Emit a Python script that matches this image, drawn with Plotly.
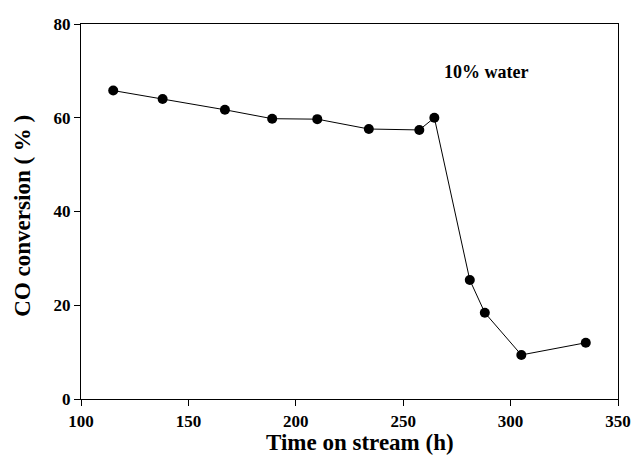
import plotly.graph_objects as go

time_h = [115, 138, 167, 189, 210, 234, 257.5, 264.5, 281, 288, 305, 335]
co_conv = [65.8, 64.0, 61.7, 59.8, 59.7, 57.6, 57.4, 60.0, 25.4, 18.4, 9.4, 12.0]

x_ticks = [100, 150, 200, 250, 300, 350]
y_ticks = [0, 20, 40, 60, 80]

x_title = "Time on stream (h)"
y_title = "CO conversion ( % )"

font_family = "Liberation Serif, Times New Roman, serif"

fig = go.Figure()
fig.add_trace(go.Scatter(
    x=time_h, y=co_conv, mode="lines+markers",
    line=dict(color="black", width=1),
    marker=dict(color="black", size=10),
    showlegend=False,
))

fig.add_annotation(x=288.5, y=69.7, text="<b>10% water</b>", showarrow=False,
                   font=dict(family=font_family, size=18, color="black"))

fig.add_annotation(xref="paper", yref="paper", x=0.5196, y=-0.152,
                   xanchor="center", yanchor="bottom", showarrow=False,
                   text=f"<b>{x_title}</b>", borderpad=0,
                   font=dict(family=font_family, size=23, color="black"))
fig.add_annotation(xref="paper", yref="paper", x=-0.108, y=0.489,
                   xanchor="center", yanchor="middle", showarrow=False, textangle=-90,
                   text=f"<b>{y_title}</b>",
                   font=dict(family=font_family, size=23, color="black"))

axis_common = dict(
    showgrid=False, zeroline=False, showline=True, linecolor="black", linewidth=1.2,
    mirror=True, ticks="outside", ticklen=6, tickcolor="black", tickwidth=1.2,
    tickfont=dict(family=font_family, size=17, color="black"), automargin=False,
)

fig.update_xaxes(range=[100, 350], tickvals=x_ticks,
                 ticktext=[f"<b>{v}</b>" for v in x_ticks], **axis_common)
fig.update_yaxes(range=[0, 80], tickvals=y_ticks,
                 ticktext=[f"<b>{v}</b>" for v in y_ticks], **axis_common)

fig.update_layout(
    width=632, height=457,
    margin=dict(l=81, r=14, t=24, b=58),
    paper_bgcolor="white", plot_bgcolor="white",
)

fig.write_html("out.html")
